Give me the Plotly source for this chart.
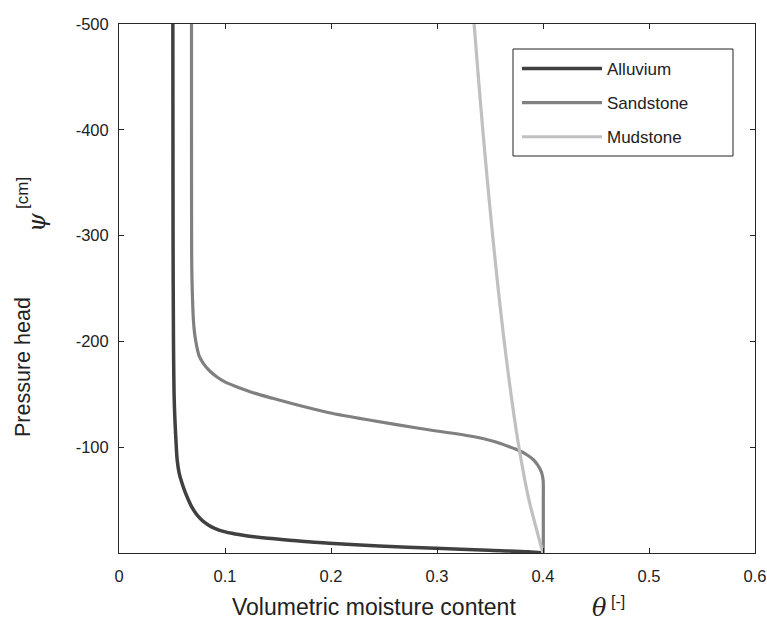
import plotly.graph_objects as go

# Water retention curves: volumetric moisture content (theta) vs pressure head (psi, cm)
alluvium_psi = [-500, -400, -300, -199.8, -144.6, -106.8, -87.9, -75.3, -67.1, -59.5, -52.0, -43.8,
                -38.8, -34.3, -29.8, -24.9, -21.7, -18.6, -16.1, -13.9, -11.8, -9.2, -6.6, -4.4,
                -2.6, -1.2, 0]
alluvium_theta = [0.0508, 0.0509, 0.0510, 0.0514, 0.0521, 0.0537, 0.0549, 0.0568, 0.0591, 0.0617,
                  0.0647, 0.0685, 0.0716, 0.0750, 0.0795, 0.0868, 0.0943, 0.1065, 0.1215, 0.1403,
                  0.1646, 0.1984, 0.2453, 0.2988, 0.3485, 0.3860, 0.4000]

sandstone_psi = [-500, -400, -300, -267.5, -220.2, -207, -195.0, -186, -179.3, -172.5, -166.6, -161.5,
                 -157.2, -151.5, -146.2, -139.9, -132.6, -125.7, -117.9, -109.9, -105.9, -100.5,
                 -96.4, -92.6, -87.9, -83.2, -76.6, -69.0, -50, -25, 0]
sandstone_theta = [0.0684, 0.0684, 0.0685, 0.0687, 0.0702, 0.0714, 0.0734, 0.0757, 0.0795, 0.0852,
                   0.0921, 0.1003, 0.1109, 0.1265, 0.1449, 0.1684, 0.1984, 0.2359, 0.2828, 0.3354,
                   0.3523, 0.3682, 0.3785, 0.3851, 0.3912, 0.3949, 0.3985, 0.4001, 0.4003, 0.4003,
                   0.4003]

mudstone_psi = [-500, -450, -400, -350, -300, -250, -200, -150, -100, -50, 0]
mudstone_theta = [0.3350, 0.3390, 0.3432, 0.3477, 0.3525, 0.3577, 0.3634, 0.3698, 0.3773, 0.3868,
                  0.4000]

x_ticks = [0, 0.1, 0.2, 0.3, 0.4, 0.5, 0.6]
x_tick_text = ["0", "0.1", "0.2", "0.3", "0.4", "0.5", "0.6"]
y_ticks = [-500, -400, -300, -200, -100]
y_tick_text = ["-500", "-400", "-300", "-200", "-100"]

FONT = "Liberation Sans, Arial, sans-serif"
SERIF = "DejaVu Serif, serif"
TEXT_COLOR = "#222222"
AXIS_COLOR = "#262626"

# plot-area geometry in pixels, used to place paper-referenced decorations
L, R, T, B = 119, 755, 24, 553
PW, PH = R - L, B - T


def px_x(px):
    return (px - L) / PW


def px_y(py):
    return (B - py) / PH


fig = go.Figure()
series = [
    ("Alluvium", alluvium_theta, alluvium_psi, "#404040", 3.5),
    ("Sandstone", sandstone_theta, sandstone_psi, "#808080", 3.2),
    ("Mudstone", mudstone_theta, mudstone_psi, "#c0c0c0", 3.2),
]
for name, th, ps, color, width in series:
    fig.add_trace(go.Scatter(
        x=th, y=ps, mode="lines", name=name, legendgroup=name,
        line=dict(color=color, width=width, shape="spline", smoothing=0.8),
    ))

axis_common = dict(
    showgrid=False, zeroline=False, showline=True, linecolor=AXIS_COLOR, linewidth=1,
    mirror="ticks", ticks="inside", ticklen=5, tickcolor=AXIS_COLOR, tickwidth=1,
    tickfont=dict(family=FONT, size=16.5, color=TEXT_COLOR), ticklabeloverflow="allow",
    automargin=False,
)

fig.update_layout(
    width=767, height=630,
    margin=dict(l=L, r=767 - R, t=T, b=630 - B),
    paper_bgcolor="white", plot_bgcolor="white",
    font=dict(family=FONT, size=17, color=TEXT_COLOR),
    xaxis=dict(range=[0, 0.6], tickvals=x_ticks, ticktext=x_tick_text, ticklabelstandoff=8, **axis_common),
    yaxis=dict(range=[0, -500], tickvals=y_ticks, ticktext=y_tick_text, ticklabelstandoff=6, **axis_common),
    legend=dict(
        x=px_x(517), y=px_y(51), xanchor="left", yanchor="top",
        bgcolor="rgba(0,0,0,0)", borderwidth=0,
        font=dict(family=FONT, size=17, color=TEXT_COLOR),
        itemwidth=80, traceorder="grouped", tracegroupgap=9,
    ),
    showlegend=True,
)

# legend frame
fig.add_shape(type="rect", xref="paper", yref="paper",
              x0=px_x(513), x1=px_x(733), y0=px_y(156), y1=px_y(49),
              line=dict(color="#222222", width=1), fillcolor="white", layer="below")

# Axis titles built from plain text plus a math-style symbol
fig.add_annotation(text="Volumetric moisture content", xref="paper", yref="paper",
                   x=px_x(374), y=px_y(607), xanchor="center", yanchor="middle",
                   showarrow=False, font=dict(family=FONT, size=23, color=TEXT_COLOR))
fig.add_annotation(text="<i>θ</i>", xref="paper", yref="paper",
                   x=px_x(599), y=px_y(608), xanchor="center", yanchor="middle",
                   showarrow=False, font=dict(family=SERIF, size=24, color=TEXT_COLOR))
fig.add_annotation(text="[-]", xref="paper", yref="paper",
                   x=px_x(618), y=px_y(601), xanchor="center", yanchor="middle",
                   showarrow=False, font=dict(family=FONT, size=16, color=TEXT_COLOR))
fig.add_annotation(text="Pressure head", xref="paper", yref="paper",
                   x=px_x(23), y=px_y(367), xanchor="center", yanchor="middle",
                   textangle=-90, showarrow=False, font=dict(family=FONT, size=21.5, color=TEXT_COLOR))
fig.add_annotation(text="<i>ψ</i>", xref="paper", yref="paper",
                   x=px_x(37), y=px_y(222), xanchor="center", yanchor="middle",
                   textangle=-90, showarrow=False, font=dict(family=SERIF, size=24, color=TEXT_COLOR))
fig.add_annotation(text="[cm]", xref="paper", yref="paper",
                   x=px_x(22), y=px_y(193), xanchor="center", yanchor="middle",
                   textangle=-90, showarrow=False, font=dict(family=FONT, size=17, color=TEXT_COLOR))

fig.write_html("out.html")
